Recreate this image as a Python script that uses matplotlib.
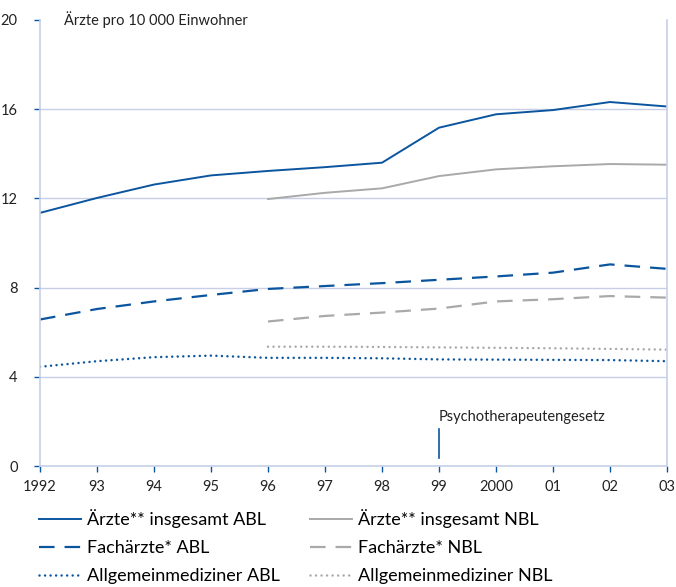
import numpy as np
import matplotlib
matplotlib.use('Agg')
import matplotlib.pyplot as plt

plt.rcParams['font.family'] = ['Lato', 'DejaVu Sans']

years = [1992, 1993, 1994, 1995, 1996, 1997, 1998, 1999, 2000, 2001, 2002, 2003]
year_labels = ['1992', '93', '94', '95', '96', '97', '98', '99', '2000', '01', '02', '03']
years_nbl = years[4:]

aerzte_abl = [11.35, 12.02, 12.62, 13.03, 13.23, 13.4, 13.6, 15.17, 15.77, 15.96, 16.32, 16.12]
aerzte_nbl = [11.97, 12.25, 12.45, 13.0, 13.3, 13.44, 13.54, 13.51]
fach_abl = [6.57, 7.04, 7.38, 7.67, 7.94, 8.07, 8.2, 8.35, 8.5, 8.67, 9.04, 8.84]
fach_nbl = [6.48, 6.73, 6.88, 7.06, 7.38, 7.48, 7.62, 7.55]
allg_abl = [4.45, 4.7, 4.88, 4.95, 4.85, 4.85, 4.83, 4.78, 4.77, 4.76, 4.75, 4.7]
allg_nbl = [5.35, 5.35, 5.34, 5.32, 5.3, 5.28, 5.25, 5.22]

blue = '#0b559f'
grey = '#a9a9a9'
gridc = '#c6cfe6'

fig = plt.figure(figsize=(6.76, 5.87), dpi=100)
ax = fig.add_axes([0.0592, 0.2061, 0.9275, 0.7599])

lw = 1.4
ax.plot(years, aerzte_abl, color=blue, lw=lw, label='Ärzte** insgesamt ABL')
ax.plot(years_nbl, aerzte_nbl, color=grey, lw=lw, label='Ärzte** insgesamt NBL')
ax.plot(years, fach_abl, color=blue, lw=1.6, dashes=(7, 4.5), label='Fachärzte* ABL')
ax.plot(years_nbl, fach_nbl, color=grey, lw=1.6, dashes=(7, 4.5), label='Fachärzte* NBL')
ax.plot(years, allg_abl, color=blue, lw=1.8, dashes=(0.01, 2.2), dash_capstyle='round',
        label='Allgemeinmediziner ABL')
ax.plot(years_nbl, allg_nbl, color=grey, lw=1.8, dashes=(0.01, 2.2), dash_capstyle='round',
        label='Allgemeinmediziner NBL')

ax.set_xlim(1992, 2003)
ax.set_ylim(0, 20)
ax.set_yticks([0, 4, 8, 12, 16, 20])
ax.set_xticks(years)
ax.set_xticklabels(year_labels)
for y in [4, 8, 12, 16]:
    ax.axhline(y, color=gridc, lw=1.0, zorder=0)

for s in ['left', 'bottom', 'right']:
    ax.spines[s].set_color(gridc)
    ax.spines[s].set_linewidth(1.2)
ax.spines['top'].set_visible(False)
ax.tick_params(axis='both', colors=blue, length=4, width=1, labelcolor='#222222', labelsize=10.5)
ax.tick_params(axis='y', pad=12)
ax.tick_params(axis='x', pad=6)

ax.text(1992.42, 20, 'Ärzte pro 10 000 Einwohner', fontsize=10.5, va='center', ha='left', color='#222222')

ax.plot([1999, 1999], [0.35, 1.65], color=blue, lw=1.2)
ax.text(1999, 2.2, 'Psychotherapeutengesetz', fontsize=10.5, va='center', ha='left', color='#222222')

handles, labels = ax.get_legend_handles_labels()
order = [0, 2, 4, 1, 3, 5]
fig.legend([handles[i] for i in order], [labels[i] for i in order], ncol=2,
           loc='upper left', bbox_to_anchor=(0.058, 0.132), frameon=False,
           fontsize=13, handlelength=2.3, handletextpad=0.33, columnspacing=1.7,
           labelspacing=0.66, borderaxespad=0, borderpad=0)

fig.savefig('out.png', dpi=100)
